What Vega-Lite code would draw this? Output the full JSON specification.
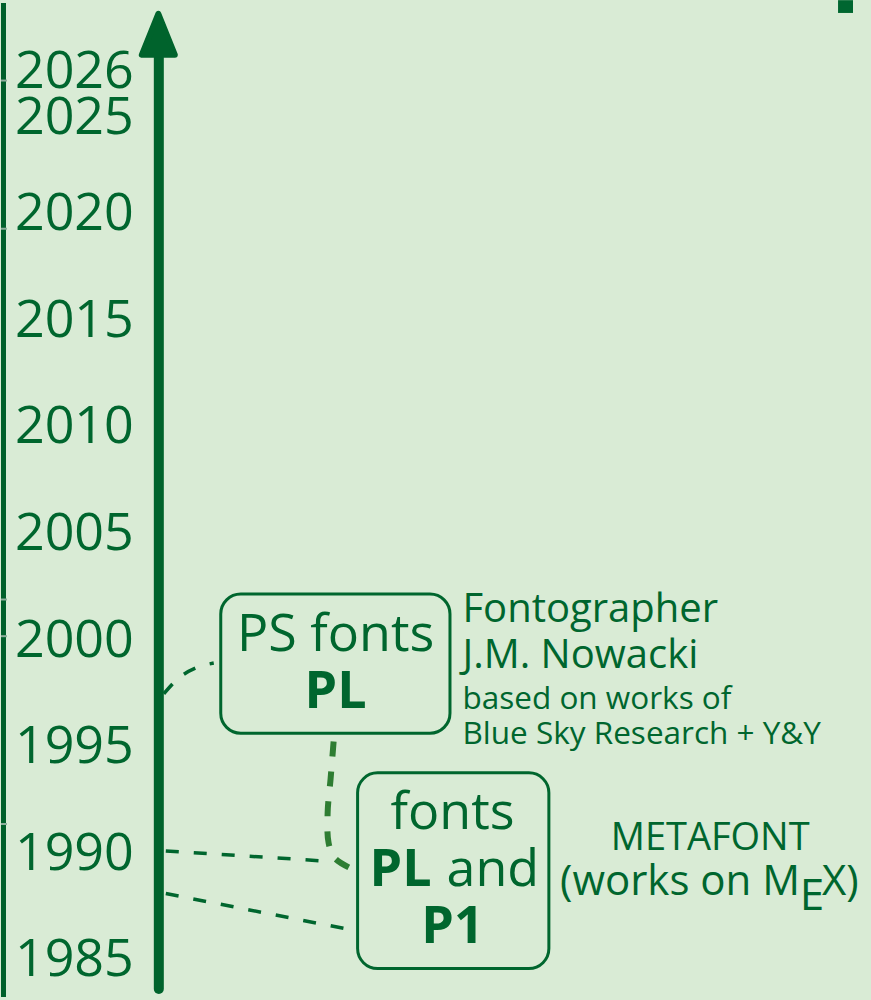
{
  "$schema": "https://vega.github.io/schema/vega-lite/v6.json",
  "width": 871,
  "height": 1000,
  "autosize": {"type": "fit", "contains": "padding"},
  "padding": 0,
  "background": "#d9ebd5",
  "config": {"view": {"stroke": null}, "text": {"font": "Open Sans", "color": "#00662e"}},
  "datasets": {
    "years": [
      {"y": 1985, "label": "1985"}, {"y": 1990, "label": "1990"}, {"y": 1995, "label": "1995"},
      {"y": 2000, "label": "2000"}, {"y": 2005, "label": "2005"}, {"y": 2010, "label": "2010"},
      {"y": 2015, "label": "2015"}, {"y": 2020, "label": "2020"}, {"y": 2025, "label": "2025"},
      {"y": 2026, "label": "2026"}
    ],
    "edge": [{"x": 2.5}],
    "ticks": [
      {"x": 0, "x2": 6, "y": 2026.13}, {"x": 0, "x2": 6, "y": 2019.18}, {"x": 0, "x2": 6, "y": 2001.79},
      {"x": 0, "x2": 6, "y": 2000.07}, {"x": 0, "x2": 6, "y": 1991.26}
    ],
    "corner": [{"x": 838, "x2": 853, "y": 2029.9, "y2": 2029.30}],
    "axisline": [{"x": 158, "y": 2027.20, "y2": 1983.52}],
    "arrowhead": [{"x": 157.5, "y": 2028.30}],
    "boxes": [
      {"name": "PS", "x": 220, "x2": 449.5, "y": 2002.05, "y2": 1995.52},
      {"name": "MF", "x": 357, "x2": 548.5, "y": 1993.66, "y2": 1984.48}
    ],
    "links": [
      {"id": "L1", "i": 1, "x": 163, "y": 1997.37}, {"id": "L1", "i": 2, "x": 178, "y": 1998.11},
      {"id": "L1", "i": 3, "x": 195, "y": 1998.58}, {"id": "L1", "i": 4, "x": 213, "y": 1998.81},
      {"id": "L2", "i": 1, "x": 333, "y": 1995.13}, {"id": "L2", "i": 2, "x": 330, "y": 1993.40},
      {"id": "L2", "i": 3, "x": 327, "y": 1991.77}, {"id": "L2", "i": 4, "x": 328, "y": 1990.37},
      {"id": "L2", "i": 5, "x": 334, "y": 1989.67}, {"id": "L2", "i": 6, "x": 349, "y": 1989.21},
      {"id": "L3", "i": 1, "x": 165, "y": 1990.00}, {"id": "L3", "i": 2, "x": 322, "y": 1989.53},
      {"id": "L4", "i": 1, "x": 165, "y": 1988.00}, {"id": "L4", "i": 2, "x": 348, "y": 1986.32}
    ],
    "texts": [
      {"g": "box", "x": 335, "y": 1999.37, "t": "PS fonts"},
      {"g": "boxb", "x": 335, "y": 1996.71, "t": "PL"},
      {"g": "box", "x": 452, "y": 1991.03, "t": "fonts"},
      {"g": "boxbr", "x": 431, "y": 1988.37, "t": "PL"},
      {"g": "boxl", "x": 446, "y": 1988.37, "t": "and"},
      {"g": "boxb", "x": 452, "y": 1985.66, "t": "P1"},
      {"g": "ann", "x": 462, "y": 2000.72, "t": "Fontographer"},
      {"g": "ann", "x": 462, "y": 1998.58, "t": "J.M. Nowacki"},
      {"g": "anns", "x": 462, "y": 1996.67, "t": "based on works of"},
      {"g": "anns", "x": 462, "y": 1995.03, "t": "Blue Sky Research + Y&Y"},
      {"g": "meta", "x": 710, "y": 1990.05, "t": "METAFONT"},
      {"g": "mexr", "x": 800, "y": 1987.95, "t": "(works on M"},
      {"g": "mexc", "x": 812, "y": 1987.25, "t": "E"},
      {"g": "mexl", "x": 822, "y": 1987.95, "t": "X)"}
    ]
  },
  "layer": [
    {
      "data": {"name": "edge"},
      "mark": {"type": "rule", "color": "#005f2a", "strokeWidth": 5},
      "encoding": {
        "x": {"field": "x", "type": "quantitative", "scale": {"domain": [0, 871], "nice": false, "zero": false}, "axis": null}
      }
    },
    {
      "data": {"name": "ticks"},
      "mark": {"type": "rule", "color": "#8fae9c", "strokeWidth": 2},
      "encoding": {
        "x": {"field": "x", "type": "quantitative", "scale": {"domain": [0, 871], "nice": false, "zero": false}, "axis": null},
        "x2": {"field": "x2"},
        "y": {"field": "y", "type": "quantitative", "scale": {"domain": [1983.147, 2029.767], "nice": false, "zero": false}, "axis": null}
      }
    },
    {
      "data": {"name": "corner"},
      "mark": {"type": "rect", "color": "#006630"},
      "encoding": {
        "x": {"field": "x", "type": "quantitative", "scale": {"domain": [0, 871], "nice": false, "zero": false}, "axis": null},
        "x2": {"field": "x2"},
        "y": {"field": "y", "type": "quantitative", "scale": {"domain": [1983.147, 2029.767], "nice": false, "zero": false}, "axis": null},
        "y2": {"field": "y2"}
      }
    },
    {
      "data": {"name": "years"},
      "transform": [{"filter": "datum.y <= 2020"}],
      "mark": {"type": "text", "align": "right", "baseline": "middle", "fontSize": 52, "dy": 3},
      "encoding": {
        "x": {"datum": 133, "type": "quantitative", "scale": {"domain": [0, 871], "nice": false, "zero": false}, "axis": null},
        "y": {"field": "y", "type": "quantitative", "scale": {"domain": [1983.147, 2029.767], "nice": false, "zero": false}, "axis": null},
        "text": {"field": "label"}
      }
    },
    {
      "data": {"name": "years"},
      "transform": [{"filter": "datum.y == 2025"}],
      "mark": {"type": "text", "align": "right", "baseline": "middle", "fontSize": 52, "dy": 13},
      "encoding": {
        "x": {"datum": 133, "type": "quantitative", "scale": {"domain": [0, 871], "nice": false, "zero": false}, "axis": null},
        "y": {"field": "y", "type": "quantitative", "scale": {"domain": [1983.147, 2029.767], "nice": false, "zero": false}, "axis": null},
        "text": {"field": "label"}
      }
    },
    {
      "data": {"name": "years"},
      "transform": [{"filter": "datum.y == 2026"}],
      "mark": {"type": "text", "align": "right", "baseline": "middle", "fontSize": 52, "dy": -11},
      "encoding": {
        "x": {"datum": 133, "type": "quantitative", "scale": {"domain": [0, 871], "nice": false, "zero": false}, "axis": null},
        "y": {"field": "y", "type": "quantitative", "scale": {"domain": [1983.147, 2029.767], "nice": false, "zero": false}, "axis": null},
        "text": {"field": "label"}
      }
    },
    {
      "data": {"name": "axisline"},
      "mark": {"type": "rule", "color": "#00632c", "strokeWidth": 10, "strokeCap": "round"},
      "encoding": {
        "x": {"field": "x", "type": "quantitative", "scale": {"domain": [0, 871], "nice": false, "zero": false}, "axis": null},
        "y": {"field": "y", "type": "quantitative", "scale": {"domain": [1983.147, 2029.767], "nice": false, "zero": false}, "axis": null},
        "y2": {"field": "y2"}
      }
    },
    {
      "data": {"name": "arrowhead"},
      "mark": {"type": "point", "shape": "M0,-0.854L-0.6875,0.854L0.6875,0.854Z", "size": 2304, "filled": true, "fill": "#00632c", "stroke": "#00632c", "strokeWidth": 6, "strokeJoin": "round", "opacity": 1},
      "encoding": {
        "x": {"field": "x", "type": "quantitative", "scale": {"domain": [0, 871], "nice": false, "zero": false}, "axis": null},
        "y": {"field": "y", "type": "quantitative", "scale": {"domain": [1983.147, 2029.767], "nice": false, "zero": false}, "axis": null}
      }
    },
    {
      "data": {"name": "links"},
      "transform": [{"filter": "datum.id != 'L2'"}],
      "mark": {"type": "line", "color": "#00662e", "strokeWidth": 3.5, "strokeDash": [13, 15], "interpolate": "monotone"},
      "encoding": {
        "x": {"field": "x", "type": "quantitative", "scale": {"domain": [0, 871], "nice": false, "zero": false}, "axis": null},
        "y": {"field": "y", "type": "quantitative", "scale": {"domain": [1983.147, 2029.767], "nice": false, "zero": false}, "axis": null},
        "detail": {"field": "id"},
        "order": {"field": "i"}
      }
    },
    {
      "data": {"name": "links"},
      "transform": [{"filter": "datum.id == 'L2'"}],
      "mark": {"type": "line", "color": "#2e7d32", "strokeWidth": 6, "strokeDash": [15, 15], "interpolate": "catmull-rom"},
      "encoding": {
        "x": {"field": "x", "type": "quantitative", "scale": {"domain": [0, 871], "nice": false, "zero": false}, "axis": null},
        "y": {"field": "y", "type": "quantitative", "scale": {"domain": [1983.147, 2029.767], "nice": false, "zero": false}, "axis": null},
        "order": {"field": "i"}
      }
    },
    {
      "data": {"name": "boxes"},
      "mark": {"type": "rect", "fill": "#d9ebd5", "fillOpacity": 0, "stroke": "#00662e", "strokeWidth": 3, "cornerRadius": 20},
      "encoding": {
        "x": {"field": "x", "type": "quantitative", "scale": {"domain": [0, 871], "nice": false, "zero": false}, "axis": null},
        "x2": {"field": "x2"},
        "y": {"field": "y", "type": "quantitative", "scale": {"domain": [1983.147, 2029.767], "nice": false, "zero": false}, "axis": null},
        "y2": {"field": "y2"}
      }
    },
    {
      "data": {"name": "texts"},
      "transform": [{"filter": "datum.g == 'box'"}],
      "mark": {"type": "text", "align": "center", "baseline": "alphabetic", "fontSize": 52},
      "encoding": {
        "x": {"field": "x", "type": "quantitative", "scale": {"domain": [0, 871], "nice": false, "zero": false}, "axis": null},
        "y": {"field": "y", "type": "quantitative", "scale": {"domain": [1983.147, 2029.767], "nice": false, "zero": false}, "axis": null},
        "text": {"field": "t"}
      }
    },
    {
      "data": {"name": "texts"},
      "transform": [{"filter": "datum.g == 'boxb'"}],
      "mark": {"type": "text", "align": "center", "baseline": "alphabetic", "fontSize": 52, "fontWeight": "bold"},
      "encoding": {
        "x": {"field": "x", "type": "quantitative", "scale": {"domain": [0, 871], "nice": false, "zero": false}, "axis": null},
        "y": {"field": "y", "type": "quantitative", "scale": {"domain": [1983.147, 2029.767], "nice": false, "zero": false}, "axis": null},
        "text": {"field": "t"}
      }
    },
    {
      "data": {"name": "texts"},
      "transform": [{"filter": "datum.g == 'boxbr'"}],
      "mark": {"type": "text", "align": "right", "baseline": "alphabetic", "fontSize": 52, "fontWeight": "bold"},
      "encoding": {
        "x": {"field": "x", "type": "quantitative", "scale": {"domain": [0, 871], "nice": false, "zero": false}, "axis": null},
        "y": {"field": "y", "type": "quantitative", "scale": {"domain": [1983.147, 2029.767], "nice": false, "zero": false}, "axis": null},
        "text": {"field": "t"}
      }
    },
    {
      "data": {"name": "texts"},
      "transform": [{"filter": "datum.g == 'boxl'"}],
      "mark": {"type": "text", "align": "left", "baseline": "alphabetic", "fontSize": 52},
      "encoding": {
        "x": {"field": "x", "type": "quantitative", "scale": {"domain": [0, 871], "nice": false, "zero": false}, "axis": null},
        "y": {"field": "y", "type": "quantitative", "scale": {"domain": [1983.147, 2029.767], "nice": false, "zero": false}, "axis": null},
        "text": {"field": "t"}
      }
    },
    {
      "data": {"name": "texts"},
      "transform": [{"filter": "datum.g == 'ann'"}],
      "mark": {"type": "text", "align": "left", "baseline": "alphabetic", "fontSize": 40},
      "encoding": {
        "x": {"field": "x", "type": "quantitative", "scale": {"domain": [0, 871], "nice": false, "zero": false}, "axis": null},
        "y": {"field": "y", "type": "quantitative", "scale": {"domain": [1983.147, 2029.767], "nice": false, "zero": false}, "axis": null},
        "text": {"field": "t"}
      }
    },
    {
      "data": {"name": "texts"},
      "transform": [{"filter": "datum.g == 'anns'"}],
      "mark": {"type": "text", "align": "left", "baseline": "alphabetic", "fontSize": 31.5},
      "encoding": {
        "x": {"field": "x", "type": "quantitative", "scale": {"domain": [0, 871], "nice": false, "zero": false}, "axis": null},
        "y": {"field": "y", "type": "quantitative", "scale": {"domain": [1983.147, 2029.767], "nice": false, "zero": false}, "axis": null},
        "text": {"field": "t"}
      }
    },
    {
      "data": {"name": "texts"},
      "transform": [{"filter": "datum.g == 'meta'"}],
      "mark": {"type": "text", "align": "center", "baseline": "alphabetic", "fontSize": 38},
      "encoding": {
        "x": {"field": "x", "type": "quantitative", "scale": {"domain": [0, 871], "nice": false, "zero": false}, "axis": null},
        "y": {"field": "y", "type": "quantitative", "scale": {"domain": [1983.147, 2029.767], "nice": false, "zero": false}, "axis": null},
        "text": {"field": "t"}
      }
    },
    {
      "data": {"name": "texts"},
      "transform": [{"filter": "datum.g == 'mexr'"}],
      "mark": {"type": "text", "align": "right", "baseline": "alphabetic", "fontSize": 42},
      "encoding": {
        "x": {"field": "x", "type": "quantitative", "scale": {"domain": [0, 871], "nice": false, "zero": false}, "axis": null},
        "y": {"field": "y", "type": "quantitative", "scale": {"domain": [1983.147, 2029.767], "nice": false, "zero": false}, "axis": null},
        "text": {"field": "t"}
      }
    },
    {
      "data": {"name": "texts"},
      "transform": [{"filter": "datum.g == 'mexc'"}],
      "mark": {"type": "text", "align": "center", "baseline": "alphabetic", "fontSize": 44},
      "encoding": {
        "x": {"field": "x", "type": "quantitative", "scale": {"domain": [0, 871], "nice": false, "zero": false}, "axis": null},
        "y": {"field": "y", "type": "quantitative", "scale": {"domain": [1983.147, 2029.767], "nice": false, "zero": false}, "axis": null},
        "text": {"field": "t"}
      }
    },
    {
      "data": {"name": "texts"},
      "transform": [{"filter": "datum.g == 'mexl'"}],
      "mark": {"type": "text", "align": "left", "baseline": "alphabetic", "fontSize": 42},
      "encoding": {
        "x": {"field": "x", "type": "quantitative", "scale": {"domain": [0, 871], "nice": false, "zero": false}, "axis": null},
        "y": {"field": "y", "type": "quantitative", "scale": {"domain": [1983.147, 2029.767], "nice": false, "zero": false}, "axis": null},
        "text": {"field": "t"}
      }
    }
  ]
}
